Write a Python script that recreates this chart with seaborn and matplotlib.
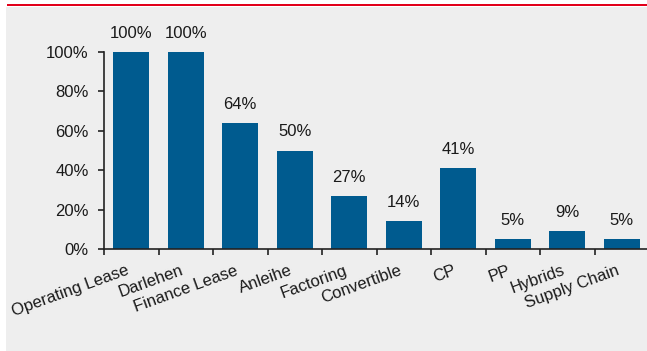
import matplotlib
matplotlib.use("Agg")
import matplotlib.pyplot as plt
from matplotlib.patches import Rectangle
from matplotlib.ticker import FixedLocator, FuncFormatter
import seaborn as sns
import pandas as pd

categories = ["Operating Lease", "Darlehen", "Finance Lease", "Anleihe", "Factoring",
              "Convertible", "CP", "PP", "Hybrids", "Supply Chain"]
shares = [100, 100, 64, 50, 27, 14, 41, 5, 9, 5]
ytick_values = [0, 20, 40, 60, 80, 100]

BAR_COLOR = "#005B8F"
PANEL = "#EEEEEE"
RED = "#E2001A"
TEXT = "#1A1A1A"
FS = 12

sns.set_theme(style="white")
plt.rcParams["font.family"] = ["Liberation Sans", "DejaVu Sans"]

W, H = 647, 351
fig = plt.figure(figsize=(W / 100, H / 100), dpi=100)
fig.patch.set_facecolor("white")

# grey panel and red rule along the top
fig.patches.append(Rectangle((6 / W, 0), 1, 1 - 7 / H, transform=fig.transFigure,
                             facecolor=PANEL, edgecolor="none", zorder=-10))
fig.patches.append(Rectangle((7 / W, 1 - 6 / H), 1, 2.2 / H, transform=fig.transFigure,
                             facecolor=RED, edgecolor="none", zorder=-9))

ax_left, ax_bottom, ax_top = 104, 249, 20
ax = fig.add_axes([ax_left / W, 1 - ax_bottom / H, (W - ax_left) / W, (ax_bottom - ax_top) / H])
ax.set_facecolor("none")

df = pd.DataFrame({"category": categories, "share": shares})
sns.barplot(data=df, x="category", y="share", color=BAR_COLOR, saturation=1,
            width=0.66, ax=ax, edgecolor="none")

step = 54.5
ax.set_xlim(-0.5, -0.5 + (W - ax_left) / step)
ax.set_ylim(0, 100 * (ax_bottom - ax_top) / 197)

for i, v in enumerate(shares):
    ax.annotate(f"{v}%", (i, v), xytext=(0, 8), textcoords="offset points",
                ha="center", va="bottom", fontsize=FS, color=TEXT)

for s in ["top", "right"]:
    ax.spines[s].set_visible(False)
for s in ["left", "bottom"]:
    ax.spines[s].set_color("#222222")
    ax.spines[s].set_linewidth(1.2)
ax.spines["left"].set_bounds(0, 100)

ax.set_yticks(ytick_values)
ax.yaxis.set_major_formatter(FuncFormatter(lambda v, p: f"{int(v)}%"))
ax.tick_params(axis="y", which="major", left=True, length=4, width=1.2, color="#222222",
               pad=7, labelsize=FS, labelcolor=TEXT)

ax.set_xticks(range(len(categories)))
ax.set_xticklabels(categories, rotation=20, ha="right", rotation_mode="default")
ax.tick_params(axis="x", which="major", bottom=True, length=0, pad=10,
               labelsize=FS, labelcolor=TEXT)
ax.xaxis.set_minor_locator(FixedLocator([i - 0.5 for i in range(len(categories))]))
ax.tick_params(axis="x", which="minor", bottom=True, length=4, width=1.2, color="#222222")

ax.set_xlabel("")
ax.set_ylabel("")

fig.savefig("out.png", dpi=100, facecolor=fig.get_facecolor())
